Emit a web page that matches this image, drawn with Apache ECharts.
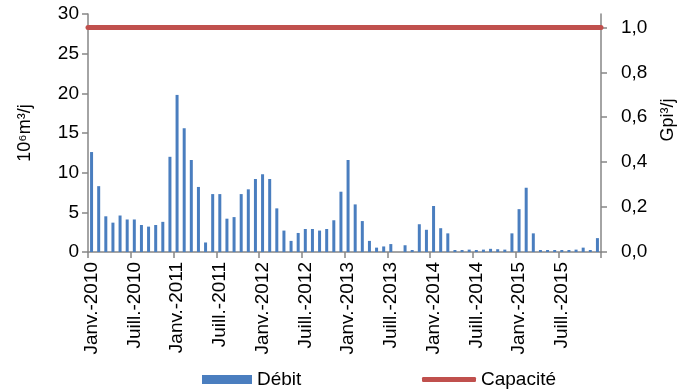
<!DOCTYPE html>
<html>
<head>
<meta charset="utf-8">
<script src="https://cdn.jsdelivr.net/npm/echarts@6/dist/echarts.min.js"></script>
<style>html,body{margin:0;padding:0;background:#fff}#c{width:685px;height:389px}</style>
</head>
<body>
<div id="c"></div>
<script>
const years = [2010, 2011, 2012, 2013, 2014, 2015];
const months = ['Janv.', 'Févr.', 'Mars', 'Avr.', 'Mai', 'Juin', 'Juill.', 'Août', 'Sept.', 'Oct.', 'Nov.', 'Déc.'];
const categories = years.flatMap(y => months.map(m => m + '-' + y));

// Débit, 10^6 m3/j, monthly Jan 2010 - Dec 2015
const debit2010 = [12.6, 8.3, 4.5, 3.7, 4.6, 4.1, 4.1, 3.4, 3.2, 3.4, 3.8, 12.0];
const debit2011 = [19.8, 15.6, 11.6, 8.2, 1.2, 7.3, 7.3, 4.2, 4.4, 7.3, 7.9, 9.2];
const debit2012 = [9.8, 9.2, 5.5, 2.7, 1.4, 2.4, 2.9, 2.9, 2.7, 2.9, 4.0, 7.6];
const debit2013 = [11.6, 6.0, 3.9, 1.4, 0.55, 0.7, 1.0, null, 0.85, 0.25, 3.5, 2.8];
const debit2014 = [5.8, 3.0, 2.35, 0.25, 0.25, 0.3, 0.25, 0.3, 0.4, 0.35, 0.3, 2.35];
const debit2015 = [5.4, 8.1, 2.35, 0.25, 0.25, 0.25, 0.25, 0.25, 0.3, 0.55, 0.25, 1.75];
const debit = [].concat(debit2010, debit2011, debit2012, debit2013, debit2014, debit2015);

// Capacité, Gpi3/j
const capacite = 1.0;

// Axis ticks
const leftTicks = [0, 5, 10, 15, 20, 25, 30];
const rightTicks = [0, 0.2, 0.4, 0.6, 0.8, 1.0];
const m3PerGpi3 = 28.3168; // 10^6 m3 per Gpi3

const FONT = '"Liberation Sans", Arial, sans-serif';
const axisGray = '#868686';
const legendText = {fontFamily: FONT, fontSize: 19, color: '#000'};

const chart = echarts.init(document.getElementById('c'), null, {renderer: 'canvas'});
chart.setOption({
  animation: false,
  textStyle: {fontFamily: FONT, color: '#000'},
  grid: {left: 88, right: 81, top: 14, bottom: 137, containLabel: false},
  legend: [{
    left: 197, top: 365,
    itemWidth: 50, itemHeight: 9,
    textStyle: legendText,
    data: [{name: 'Débit', icon: 'rect'}]
  }, {
    left: 417, top: 365,
    itemWidth: 54, itemHeight: 5,
    textStyle: legendText,
    data: [{name: 'Capacité', icon: 'roundRect'}]
  }],
  xAxis: {
    type: 'category',
    data: categories,
    boundaryGap: true,
    axisLine: {lineStyle: {color: axisGray, width: 1.5}},
    axisTick: {show: true, interval: 5, length: 6, lineStyle: {color: axisGray, width: 1.5}},
    axisLabel: {interval: 5, rotate: 90, margin: 10, fontSize: 19, color: '#000', fontFamily: FONT}
  },
  yAxis: [{
    type: 'value', min: 0, max: 30, interval: 5,
    name: '10⁶m³/j', nameLocation: 'middle', nameGap: 54, nameRotate: 90,
    nameTextStyle: {fontSize: 18, color: '#000', fontFamily: FONT},
    axisLine: {show: true, lineStyle: {color: axisGray, width: 1.5}},
    axisTick: {show: true, length: 6, lineStyle: {color: axisGray, width: 1.5}},
    axisLabel: {fontSize: 19, color: '#000', margin: 9, fontFamily: FONT},
    splitLine: {show: false}
  }, {
    type: 'value', min: 0, max: 30 / m3PerGpi3, position: 'right',
    name: 'Gpi³/j', nameLocation: 'middle', nameGap: 58, nameRotate: 90,
    nameTextStyle: {fontSize: 18, color: '#000', fontFamily: FONT, padding: [0, 0, 0, 26]},
    axisLine: {show: true, lineStyle: {color: axisGray, width: 1.5}},
    axisTick: {show: true, length: 6, customValues: rightTicks, lineStyle: {color: axisGray, width: 1.5}},
    axisLabel: {fontSize: 19, color: '#000', margin: 20, fontFamily: FONT, customValues: rightTicks,
      formatter: v => v.toFixed(1).replace('.', ',')},
    splitLine: {show: false}
  }],
  series: [{
    name: 'Débit', type: 'bar', yAxisIndex: 0,
    data: debit, barWidth: 3,
    itemStyle: {color: '#4a7ebf'}
  }, {
    name: 'Capacité', type: 'line', yAxisIndex: 1,
    data: [], symbol: 'none',
    lineStyle: {color: '#c0504d', width: 5, cap: 'round'},
    itemStyle: {color: '#c0504d'},
    markLine: {
      silent: true, symbol: 'none', label: {show: false},
      lineStyle: {color: '#c0504d', width: 5, type: 'solid', cap: 'round'},
      data: [{yAxis: capacite}]
    }
  }]
});
</script>
</body>
</html>
